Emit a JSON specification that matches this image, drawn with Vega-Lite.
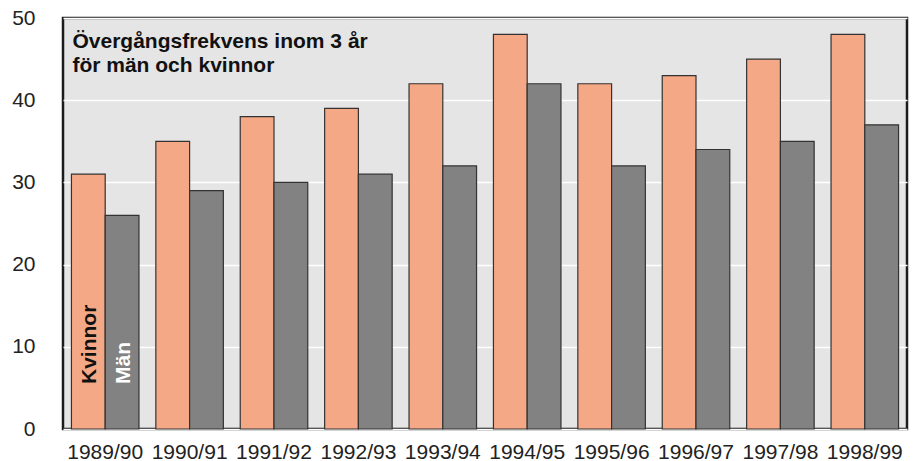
{
  "$schema": "https://vega.github.io/schema/vega-lite/v6.json",
  "width": 844,
  "height": 411,
  "autosize": "none",
  "padding": {"left": 63, "top": 18, "right": 7, "bottom": 32},
  "background": "white",
  "config": {
    "font": "Liberation Sans",
    "view": {"fill": "#e5e5e5", "stroke": "#1c1c1c", "strokeWidth": 2.5}
  },
  "layer": [
    {
      "data": {
        "values": [
          {"year": "1989/90", "sex": "Kvinnor", "value": 31},
          {"year": "1989/90", "sex": "Män", "value": 26},
          {"year": "1990/91", "sex": "Kvinnor", "value": 35},
          {"year": "1990/91", "sex": "Män", "value": 29},
          {"year": "1991/92", "sex": "Kvinnor", "value": 38},
          {"year": "1991/92", "sex": "Män", "value": 30},
          {"year": "1992/93", "sex": "Kvinnor", "value": 39},
          {"year": "1992/93", "sex": "Män", "value": 31},
          {"year": "1993/94", "sex": "Kvinnor", "value": 42},
          {"year": "1993/94", "sex": "Män", "value": 32},
          {"year": "1994/95", "sex": "Kvinnor", "value": 48},
          {"year": "1994/95", "sex": "Män", "value": 42},
          {"year": "1995/96", "sex": "Kvinnor", "value": 42},
          {"year": "1995/96", "sex": "Män", "value": 32},
          {"year": "1996/97", "sex": "Kvinnor", "value": 43},
          {"year": "1996/97", "sex": "Män", "value": 34},
          {"year": "1997/98", "sex": "Kvinnor", "value": 45},
          {"year": "1997/98", "sex": "Män", "value": 35},
          {"year": "1998/99", "sex": "Kvinnor", "value": 48},
          {"year": "1998/99", "sex": "Män", "value": 37}
        ]
      },
      "mark": {"type": "bar", "stroke": "#333333", "strokeWidth": 1.2},
      "encoding": {
        "x": {
          "field": "year",
          "type": "nominal",
          "scale": {"paddingInner": 0.2, "paddingOuter": 0.1},
          "axis": {
            "title": null,
            "ticks": false,
            "domain": false,
            "labelAngle": 0,
            "labelFontSize": 21,
            "labelPadding": 12,
            "labelColor": "#222222"
          }
        },
        "xOffset": {
          "field": "sex",
          "type": "nominal",
          "scale": {"domain": ["Kvinnor", "Män"], "paddingInner": 0, "paddingOuter": 0}
        },
        "y": {
          "field": "value",
          "type": "quantitative",
          "scale": {"domain": [0, 50], "nice": false},
          "axis": {
            "title": null,
            "ticks": false,
            "domain": false,
            "values": [0, 10, 20, 30, 40, 50],
            "labelFontSize": 21,
            "labelPadding": 28,
            "labelFlush": false,
            "labelColor": "#222222",
            "grid": true,
            "gridColor": "white",
            "gridWidth": 1.3,
            "gridOpacity": 1
          }
        },
        "color": {
          "field": "sex",
          "type": "nominal",
          "scale": {"domain": ["Kvinnor", "Män"], "range": ["#f5a885", "#828282"]},
          "legend": null
        }
      }
    },
    {
      "data": {"values": [{"year": "1989/90", "sex": "Kvinnor", "label": "Kvinnor"}]},
      "mark": {"type": "text", "angle": 270, "align": "left", "baseline": "middle", "dx": 45, "dy": 1.5, "fontSize": 21, "fontWeight": "bold", "color": "#111111"},
      "encoding": {
        "x": {"field": "year", "type": "nominal"},
        "xOffset": {"field": "sex", "type": "nominal"},
        "y": {"datum": 0, "type": "quantitative"},
        "text": {"field": "label"}
      }
    },
    {
      "data": {"values": [{"year": "1989/90", "sex": "Män", "label": "Män"}]},
      "mark": {"type": "text", "angle": 270, "align": "left", "baseline": "middle", "dx": 45, "dy": 1.5, "fontSize": 21, "fontWeight": "bold", "color": "white"},
      "encoding": {
        "x": {"field": "year", "type": "nominal"},
        "xOffset": {"field": "sex", "type": "nominal"},
        "y": {"datum": 0, "type": "quantitative"},
        "text": {"field": "label"}
      }
    },
    {
      "data": {"values": [{"year": "1989/90", "label": "Övergångsfrekvens inom 3 år\nför män och kvinnor"}]},
      "mark": {"type": "text", "align": "left", "baseline": "alphabetic", "lineBreak": "\n", "lineHeight": 24, "dy": 30, "dx": 1, "fontSize": 21, "fontWeight": "bold", "color": "#111111"},
      "encoding": {
        "x": {"field": "year", "type": "nominal", "bandPosition": 0},
        "y": {"datum": 50, "type": "quantitative"},
        "text": {"field": "label"}
      }
    }
  ]
}
